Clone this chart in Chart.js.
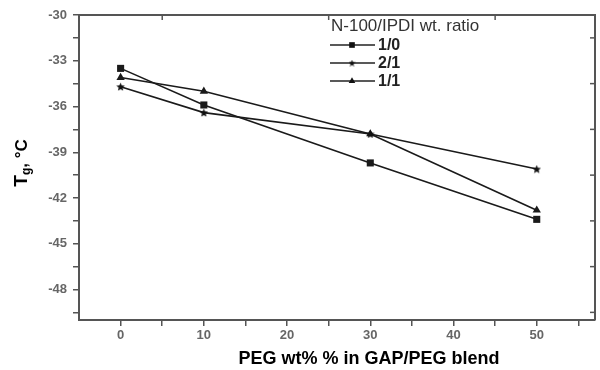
<!DOCTYPE html>
<html lang="en">
<head>
  <meta charset="UTF-8">
  <title>Tg vs PEG content</title>
  <script src="https://cdn.jsdelivr.net/npm/chart.js@4.4.0/dist/chart.umd.min.js"></script>
  <style>
    html, body { margin: 0; padding: 0; background: #fff; }
    #wrap { width: 600px; height: 370px; position: relative; }
  </style>
</head>
<body>
  <div id="wrap"><canvas id="tgChart" width="600" height="370"></canvas></div>
  <script>
    // PEG content (wt%) and Tg readings for each N-100/IPDI ratio
    const pegContent = [0, 10, 30, 50];
    const tg_1_0 = [-33.5, -35.9, -39.7, -43.4];
    const tg_2_1 = [-34.7, -36.4, -37.8, -40.1];
    const tg_1_1 = [-34.1, -35.0, -37.8, -42.8];
    const seriesLabels = ["1/0", "2/1", "1/1"];
    const legendTitle = "N-100/IPDI wt. ratio";
    const xTitle = "PEG wt% % in GAP/PEG blend";

    const xTicks = [0, 5, 10, 15, 20, 25, 30, 35, 40, 45, 50, 55];
    const xLabels = [0, 10, 20, 30, 40, 50];
    const xTopTicks = [5, 25, 45];
    const yTicks = [-49.5, -48, -46.5, -45, -43.5, -42, -40.5, -39, -37.5, -36, -34.5, -33, -31.5, -30];
    const yLabels = [-30, -33, -36, -39, -42, -45, -48];
    const yRightTicks = [-31.5, -34.5, -37.5, -40.5, -43.5, -46.5, -49.5];

    const AXIS = "#555";
    const FONT = "'Liberation Sans', Arial, sans-serif";

    function starImage(size) {
      const c = document.createElement("canvas");
      c.width = size; c.height = size;
      const g = c.getContext("2d");
      const h = size / 2;
      g.fillStyle = "#111";
      g.beginPath();
      for (let i = 0; i < 10; i++) {
        const r = i % 2 === 0 ? h : h * 0.45;
        const a = -Math.PI / 2 + i * Math.PI / 5;
        const px = h + r * Math.cos(a), py = h * 1.1 + r * Math.sin(a);
        i === 0 ? g.moveTo(px, py) : g.lineTo(px, py);
      }
      g.closePath();
      g.fill();
      return c;
    }
    const star = starImage(9);
    const smallStar = starImage(7);

    const styles = [
      { pointStyle: "rect", pointRadius: 5, legendStyle: "rect", legendRadius: 4 },
      { pointStyle: star, pointRadius: 4.5, legendStyle: smallStar, legendRadius: 3.5 },
      { pointStyle: "triangle", pointRadius: 4.8, legendStyle: "triangle", legendRadius: 3.8 }
    ];

    function pts(vals) { return pegContent.map((x, i) => ({ x: x, y: vals[i] })); }

    const datasets = [tg_1_0, tg_2_1, tg_1_1].map((vals, i) => ({
      label: seriesLabels[i],
      data: pts(vals),
      borderColor: "#1a1a1a",
      backgroundColor: "#1a1a1a",
      borderWidth: 1.6,
      pointStyle: styles[i].pointStyle,
      pointRadius: styles[i].pointRadius,
      pointBorderWidth: 0,
      tension: 0,
      showLine: true
    }));

    // frame, inward top/right ticks, legend and titles
    const decorations = {
      id: "decorations",
      afterDraw(chart) {
        const { ctx, chartArea: a, scales } = chart;
        const xs = scales.x, ys = scales.y;
        ctx.save();
        ctx.strokeStyle = AXIS;
        ctx.lineWidth = 2;
        ctx.beginPath();
        ctx.moveTo(a.left, a.top); ctx.lineTo(a.right, a.top); ctx.lineTo(a.right, a.bottom);
        ctx.stroke();
        ctx.lineWidth = 1.5;
        xTopTicks.forEach(v => {
          const px = xs.getPixelForValue(v);
          ctx.beginPath(); ctx.moveTo(px, a.top); ctx.lineTo(px, a.top + 5); ctx.stroke();
        });
        yRightTicks.forEach(v => {
          const py = ys.getPixelForValue(v);
          ctx.beginPath(); ctx.moveTo(a.right, py); ctx.lineTo(a.right - 5, py); ctx.stroke();
        });

        // legend
        ctx.fillStyle = "#333";
        ctx.font = "17px " + FONT;
        ctx.textBaseline = "middle";
        ctx.textAlign = "left";
        ctx.fillText(legendTitle, 331, 26);
        chart.data.datasets.forEach((ds, i) => {
          const y = 45 + i * 18;
          ctx.strokeStyle = "#222";
          ctx.lineWidth = 1.6;
          ctx.beginPath(); ctx.moveTo(330, y); ctx.lineTo(375, y); ctx.stroke();
          ctx.fillStyle = "#111";
          Chart.helpers.drawPoint(ctx, {
            pointStyle: styles[i].legendStyle, radius: styles[i].legendRadius, borderWidth: 0, rotation: 0
          }, 352, y);
          ctx.fillStyle = "#222";
          ctx.font = "bold 16px " + FONT;
          ctx.fillText(ds.label, 378, y + 1);
        });

        // x title
        ctx.fillStyle = "#000";
        ctx.font = "bold 18px " + FONT;
        ctx.textAlign = "center";
        ctx.fillText(xTitle, 369, 359);

        // y title with subscript
        ctx.translate(22, 163);
        ctx.rotate(-Math.PI / 2);
        ctx.textAlign = "left";
        const parts = [["T", "bold 19px", 0], ["g", "bold 12px", 5], [", \u00b0C", "bold 17px", 0]];
        let total = 0;
        parts.forEach(p => { ctx.font = p[1] + " " + FONT; total += ctx.measureText(p[0]).width; });
        let cx = -total / 2;
        parts.forEach(p => {
          ctx.font = p[1] + " " + FONT;
          ctx.fillText(p[0], cx, p[2]);
          cx += ctx.measureText(p[0]).width;
        });
        ctx.restore();
      }
    };

    new Chart(document.getElementById("tgChart"), {
      type: "scatter",
      data: { datasets: datasets },
      options: {
        responsive: false,
        animation: false,
        layout: { padding: { top: 15, right: 2, left: 0, bottom: 0 } },
        plugins: { legend: { display: false }, tooltip: { enabled: false } },
        scales: {
          x: {
            type: "linear",
            min: -5,
            max: 57,
            afterFit: s => { s.height = 50; },
            afterBuildTicks: s => { s.ticks = xTicks.map(v => ({ value: v })); },
            ticks: {
              color: "#666",
              font: { family: FONT, size: 13, weight: "bold" },
              padding: 2,
              maxRotation: 0,
              autoSkip: false,
              callback: v => xLabels.includes(v) ? String(v) : ""
            },
            grid: { drawOnChartArea: false, drawTicks: true, tickLength: 6, color: AXIS, lineWidth: 1.5 },
            border: { display: true, color: AXIS, width: 2 }
          },
          y: {
            type: "linear",
            min: -50,
            max: -30,
            afterFit: s => { s.width = 79; },
            afterBuildTicks: s => { s.ticks = yTicks.map(v => ({ value: v })); },
            ticks: {
              color: "#666",
              font: { family: FONT, size: 13, weight: "bold" },
              padding: 6,
              autoSkip: false,
              callback: v => yLabels.includes(v) ? String(v) : ""
            },
            grid: { drawOnChartArea: false, drawTicks: true, tickLength: 6, color: AXIS, lineWidth: 1.5 },
            border: { display: true, color: AXIS, width: 2 }
          }
        }
      },
      plugins: [decorations]
    });
  </script>
</body>
</html>
